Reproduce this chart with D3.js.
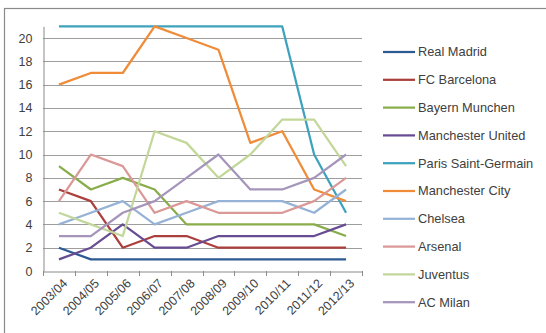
<!DOCTYPE html>
<html><head><meta charset="utf-8">
<script src="https://cdn.jsdelivr.net/npm/d3@7/dist/d3.min.js"></script>
<style>body{margin:0;background:#fff;overflow:hidden}</style>
</head><body>
<svg id="c" width="546" height="333"></svg>
<script>
const seasons = ["2003/04","2004/05","2005/06","2006/07","2007/08","2008/09","2009/10","2010/11","2011/12","2012/13"];
const yTicks = [0,2,4,6,8,10,12,14,16,18,20];
const teams = ["Real Madrid","FC Barcelona","Bayern Munchen","Manchester United","Paris Saint-Germain","Manchester City","Chelsea","Arsenal","Juventus","AC Milan"];
const realMadrid    = [2,1,1,1,1,1,1,1,1,1];
const fcBarcelona   = [7,6,2,3,3,2,2,2,2,2];
const bayernMunchen = [9,7,8,7,4,4,4,4,4,3];
const manUnited     = [1,2,4,2,2,3,3,3,3,4];
const parisSG       = [21,21,21,21,21,21,21,21,10,5];
const manCity       = [16,17,17,21,20,19,11,12,7,6];
const chelsea       = [4,5,6,4,5,6,6,6,5,7];
const arsenal       = [6,10,9,5,6,5,5,5,6,8];
const juventus      = [5,4,3,12,11,8,10,13,13,9];
const acMilan       = [3,3,5,6,8,10,7,7,8,10];
const colors = ["#2d5a92","#ab3f3c","#8aad4c","#674c93","#3ea2be","#f08b38","#96b2d6","#da9896","#c3d79a","#a595bb"];

const values = [realMadrid,fcBarcelona,bayernMunchen,manUnited,parisSG,manCity,chelsea,arsenal,juventus,acMilan];
const series = teams.map((t,i)=>({name:t,values:values[i],color:colors[i]}));

const svg = d3.select("#c");
const font = "'Liberation Sans', Arial, sans-serif";
svg.append("rect").attr("width",546).attr("height",333).attr("fill","#fff");
svg.append("rect").attr("x",4.5).attr("y",8.5).attr("width",600).attr("height",400)
   .attr("fill","none").attr("stroke","#8a8a8a").attr("stroke-width",1.2);

const x = d3.scaleBand().domain(seasons).range([43,362]).paddingInner(0).paddingOuter(0);
const cx = s => x(s) + x.bandwidth()/2;
const y = d3.scaleLinear().domain([0,21]).range([271,26.4]);

// gridlines
svg.append("g").selectAll("line").data(yTicks.filter(d=>d>0)).join("line")
  .attr("x1",43).attr("x2",362).attr("y1",d=>Math.round(y(d))+0.5).attr("y2",d=>Math.round(y(d))+0.5)
  .attr("stroke","#9e9e9e").attr("stroke-width",1);

// y axis
const yAxis = d3.axisLeft(y).tickValues(yTicks).tickSize(0).tickPadding(11);
const gy = svg.append("g").attr("transform","translate(43.5,0)").call(yAxis);
gy.select(".domain").attr("stroke","#8a8a8a");
gy.selectAll("text").attr("font-family",font).attr("font-size",12.5).attr("fill","#404040");

// x axis
const xAxis = d3.axisBottom(x).tickSize(0).tickFormat("");
const gx = svg.append("g").attr("transform","translate(0,271.5)").call(xAxis);
gx.select(".domain").attr("stroke","#8a8a8a");
gx.selectAll(".tick").remove();
svg.append("g").selectAll("line").data(seasons.concat(["__end"])).join("line")
  .attr("x1",(d,i)=>Math.round(i<seasons.length?x(d):x.range()[1])+0.5)
  .attr("x2",(d,i)=>Math.round(i<seasons.length?x(d):x.range()[1])+0.5)
  .attr("y1",271).attr("y2",276).attr("stroke","#8a8a8a");
svg.append("g").selectAll("text").data(seasons).join("text")
  .attr("transform",d=>`translate(${cx(d)+6},${281}) rotate(-45)`)
  .attr("text-anchor","end").attr("dy","0.35em")
  .attr("font-family",font).attr("font-size",12.5).attr("fill","#404040")
  .text(d=>d);

// lines
const line = d3.line().x((d,i)=>cx(seasons[i])).y(d=>y(d));
svg.append("g").selectAll("path").data(series).join("path")
  .attr("d",d=>line(d.values)).attr("fill","none")
  .attr("stroke",d=>d.color).attr("stroke-width",2.25).attr("stroke-linejoin","round");

// legend
const lg = svg.append("g").selectAll("g").data(series).join("g")
  .attr("transform",(d,i)=>`translate(383,${52 + i*27.8})`);
lg.append("line").attr("x1",0).attr("x2",32).attr("stroke",d=>d.color).attr("stroke-width",2.25);
lg.append("text").attr("x",35).attr("dy","0.35em")
  .attr("font-family",font).attr("font-size",12.8).attr("fill","#404040").text(d=>d.name);
</script>
</body></html>
